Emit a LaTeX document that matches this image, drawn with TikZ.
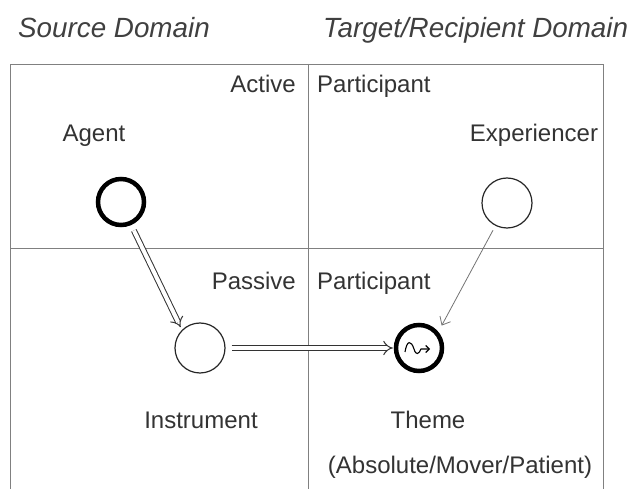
\documentclass[tikz,border=0pt]{standalone}
\usepackage{fontspec}
\setmainfont{Liberation Sans}
\usetikzlibrary{arrows.meta}
\begin{document}
\begin{tikzpicture}[x=1pt,y=-1pt,
  lbl/.style={font=\fontsize{24}{28}\selectfont, text=black!80, inner sep=0pt},
  ttl/.style={font=\fontsize{27.8}{32}\selectfont\itshape, text=black!75, inner sep=0pt},
  frame/.style={draw=black!50, line width=0.9pt},
  role/.style={circle, draw=black!85, line width=1.2pt, minimum size=50pt, inner sep=0pt},
  focus/.style={circle, draw=black, line width=4.5pt, minimum size=46pt, inner sep=0pt},
  dbl/.style={draw=black!80, line width=1pt, double=white, double distance=4pt, -Implies},
  thin/.style={draw=black!55, line width=0.8pt, -{Straight Barb[length=7pt,width=12pt]}},
]
\useasboundingbox (0,0) rectangle (633,489);
% titles
\node[ttl, anchor=base west] (src) at (18,38) {Source Domain};
\node[ttl, anchor=base west] (tgt) at (323,38) {Target/Recipient Domain};
% frame
\coordinate (tl) at (10,64);
\coordinate (tr) at (603,64);
\coordinate (bl) at (10,489);
\coordinate (br) at (603,489);
\coordinate (tm) at (308,64);
\coordinate (bm) at (308,489);
\coordinate (ml) at (10,248);
\coordinate (mr) at (603,248);
\draw[frame] (bl) -- (tl) -- (tr) -- (br);
\draw[frame] (tm) -- (bm);
\draw[frame] (ml) -- (mr);
% labels
\node[lbl, anchor=base east] (act) at (296,93) {Active};
\node[lbl, anchor=base west] (ap) at (317,93) {Participant};
\node[lbl, anchor=base east] (pas) at (296,290) {Passive};
\node[lbl, anchor=base west] (pp) at (317,290) {Participant};
\node[lbl, anchor=base] (agl) at (94,142) {Agent};
\node[lbl, anchor=base] (exl) at (534,142) {Experiencer};
\node[lbl, anchor=base] (inl) at (201,429) {Instrument};
\node[lbl, anchor=base] (thl) at (428,429) {Theme};
\node[lbl, anchor=base] (abl) at (460,474) {(Absolute/Mover/Patient)};
% circles
\node[focus] (agent) at (121,202) {};
\node[role] (exp) at (507,203) {};
\node[role] (inst) at (200,348) {};
\node[focus] (theme) at (419,348) {};
% wave inside theme
\begin{scope}[shift={(theme.center)}]
  \coordinate (w0) at (-14,4);
  \coordinate (w1) at (2,1);
  \coordinate (w2) at (11,1);
  \draw[line width=1.1pt, -{Straight Barb[length=3.5pt,width=7pt]}]
    (w0) .. controls (-12,-8) and (-8,-8) .. (-5,1)
    .. controls (-3,8) and (0,6) .. (w1) -- (w2);
\end{scope}
% connectors
\draw[dbl, shorten <=6pt, shorten >=3pt] (agent.-66) -- (inst.135);
\draw[dbl, shorten <=6pt, shorten >=1pt] (inst) -- (theme);
\draw[thin, shorten <=5pt, shorten >=7pt] (exp.-117) -- (theme.40);
\end{tikzpicture}
\end{document}
